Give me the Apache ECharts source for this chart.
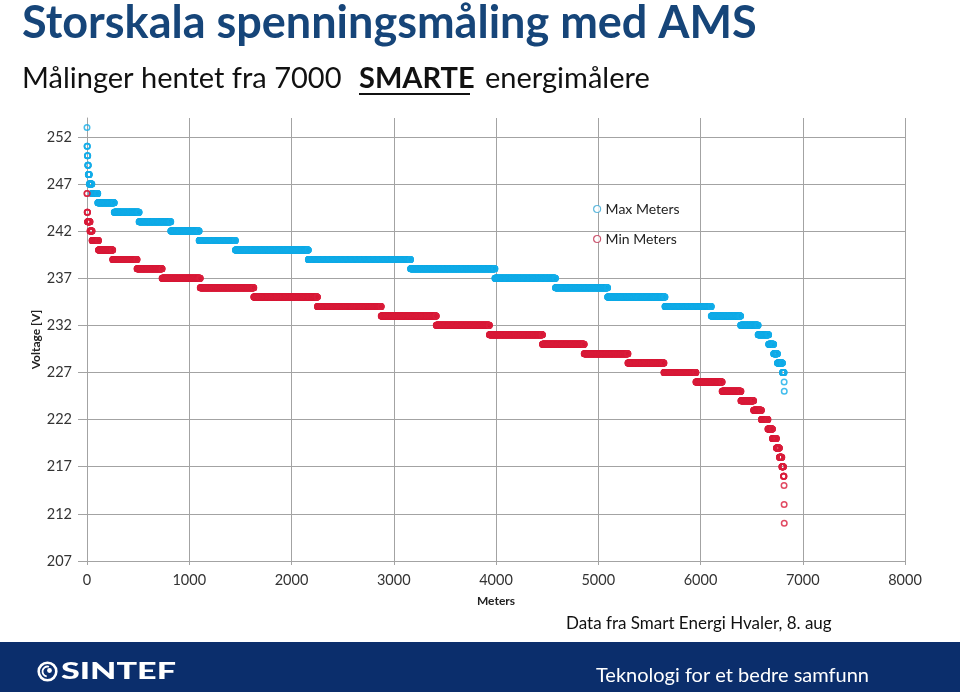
<!DOCTYPE html>
<html>
<head>
<meta charset="utf-8">
<script src="https://cdn.jsdelivr.net/npm/echarts@6/dist/echarts.min.js"></script>
<style>
html,body{margin:0;padding:0;background:#fff;}
#chart{width:960px;height:692px;}
</style>
</head>
<body>
<div id="chart"></div>
<script>
// Voltage levels and number of meters at each level (meters sorted by voltage, descending)
const maxLevels = [253,251,250,249,248,247,246,245,244,243,242,241,240,239,238,237,236,235,234,233,232,231,230,229,228,227,226,225];
const maxCounts = [1,3,4,5,10,25,58,161,243,310,277,355,713,1000,825,592,510,561,453,287,171,103,49,37,49,16,1,1];
const minLevels = [246,244,243,242,241,240,239,238,237,236,235,234,233,232,231,230,229,228,227,226,225,224,223,222,221,220,219,218,217,216,215,213,211];
const minCounts = [2,4,24,20,63,139,238,245,373,524,622,624,538,520,519,408,428,352,313,256,184,124,76,64,44,39,29,24,16,5,1,1,1];
const seriesNames = ['Max Meters','Min Meters'];
const yTicks = [207,212,217,222,227,232,237,242,247,252];
const xTicks = [0,1000,2000,3000,4000,5000,6000,7000,8000];

function buildPoints(levels, counts){
  const pts = [];
  let idx = 0;
  levels.forEach((v,k)=>{
    for(let i=0;i<counts[k];i++){ pts.push([idx, v]); idx++; }
  });
  return pts;
}

const FONT = 'Lato, "Open Sans", sans-serif';
const chart = echarts.init(document.getElementById('chart'), null, {renderer:'canvas'});
const gridColor = '#a3a3a3';
const cyan = '#13ade8';
const red = '#da1d3b';

chart.setOption({
  animation:false,
  backgroundColor:'#ffffff',
  textStyle:{fontFamily:FONT},
  grid:{left:87,right:55,top:118,bottom:131,containLabel:false},
  legend:{
    orient:'vertical',left:588,top:197,itemGap:16,itemWidth:7,itemHeight:7,
    data:[
      {name:seriesNames[0],icon:'circle',itemStyle:{color:'#fff',borderColor:'#3aa9d6',borderWidth:1.2}},
      {name:seriesNames[1],icon:'circle',itemStyle:{color:'#fff',borderColor:'#c0304f',borderWidth:1.2}}
    ],
    textStyle:{fontFamily:FONT,fontSize:14,color:'#222'}
  },
  xAxis:{
    type:'value',min:xTicks[0],max:xTicks[xTicks.length-1],interval:1000,
    name:'Meters',nameLocation:'middle',nameGap:34,nameMoveOverlap:false,
    nameTextStyle:{fontFamily:FONT,fontSize:12,fontWeight:'bold',color:'#222'},
    axisLine:{show:true,lineStyle:{color:gridColor,width:1}},
    axisTick:{show:true,length:4,lineStyle:{color:gridColor}},
    axisLabel:{fontFamily:FONT,fontSize:14.5,color:'#333',margin:12,formatter:v=>String(v)},
    splitLine:{show:true,lineStyle:{color:gridColor,width:1}}
  },
  yAxis:{
    type:'value',min:yTicks[0],max:254,interval:5,
    name:'Voltage [V]',nameLocation:'middle',nameGap:45,nameMoveOverlap:false,
    nameTextStyle:{fontFamily:FONT,fontSize:12,fontWeight:'bold',color:'#222'},
    axisLine:{show:true,lineStyle:{color:gridColor,width:1}},
    axisTick:{show:true,length:9,lineStyle:{color:gridColor}},
    axisLabel:{fontFamily:FONT,fontSize:14.5,color:'#333',margin:15,showMaxLabel:false,formatter:v=>String(v)},
    splitLine:{show:true,showMaxLine:false,lineStyle:{color:gridColor,width:1}}
  },
  series:[
    {name:seriesNames[0],type:'scatter',data:buildPoints(maxLevels,maxCounts),
     symbol:'circle',symbolSize:5.5,progressive:0,large:false,
     itemStyle:{color:'rgba(0,0,0,0)',borderColor:cyan,borderWidth:1.5}},
    {name:seriesNames[1],type:'scatter',data:buildPoints(minLevels,minCounts),
     symbol:'circle',symbolSize:5.5,progressive:0,large:false,
     itemStyle:{color:'rgba(0,0,0,0)',borderColor:red,borderWidth:1.5}}
  ],
  graphic:[
    {type:'text',x:22,y:23,style:{text:'Storskala spenningsmåling med AMS',font:'bold 45px '+FONT,fill:'#164579',textVerticalAlign:'middle'}},
    {type:'text',x:22,y:79,style:{text:'Målinger hentet fra 7000',font:'29px '+FONT,fill:'#111',textVerticalAlign:'middle'}},
    {type:'text',x:359,y:79,style:{text:'SMARTE',font:'bold 29px '+FONT,fill:'#111',textVerticalAlign:'middle'}},
    {type:'line',shape:{x1:359,y1:94,x2:470,y2:94},style:{stroke:'#111',lineWidth:2}},
    {type:'text',x:485,y:79,style:{text:'energimålere',font:'29px '+FONT,fill:'#111',textVerticalAlign:'middle'}},
    {type:'text',x:566,y:624,style:{text:'Data fra Smart Energi Hvaler, 8. aug',font:'17px '+FONT,fill:'#111',textVerticalAlign:'middle'}},
    {type:'rect',shape:{x:0,y:642,width:960,height:50},style:{fill:'#0b2e6c'},z:-1},
    {type:'circle',shape:{cx:47.5,cy:671.5,r:8.8},style:{fill:'none',stroke:'#fff',lineWidth:2.6}},
    {type:'arc',shape:{cx:47.5,cy:671.5,r:5,startAngle:Math.PI*0.55,endAngle:Math.PI*1.6},style:{fill:'none',stroke:'#fff',lineWidth:1.8}},
    {type:'circle',shape:{cx:49.5,cy:670.5,r:2.4},style:{fill:'#fff'}},
    {type:'text',x:61,y:672,scaleX:1.55,style:{text:'SINTEF',font:'900 22px '+FONT,fill:'#fff',textVerticalAlign:'middle'}},
    {type:'text',x:596,y:676,style:{text:'Teknologi for et bedre samfunn',font:'20px '+FONT,fill:'#fff',textVerticalAlign:'middle'}}
  ]
});
</script>
</body>
</html>
